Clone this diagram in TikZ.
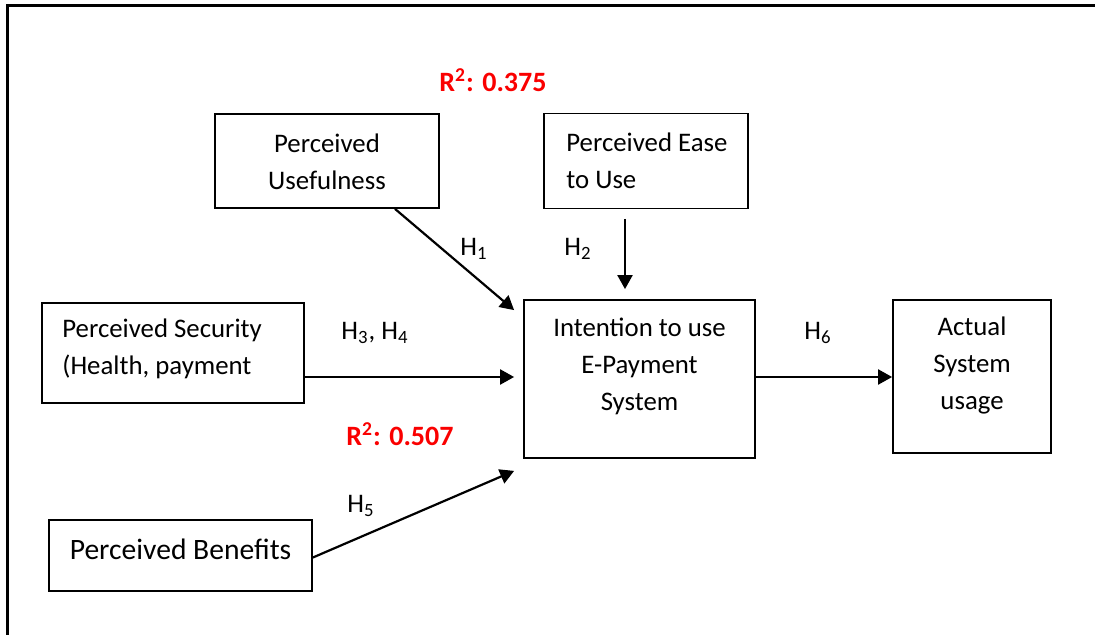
\documentclass[tikz,border=0pt]{standalone}
\usepackage{fontspec}
\setmainfont{Carlito}
\usetikzlibrary{arrows.meta,positioning}
\definecolor{rsqred}{RGB}{250,0,0}

\begin{document}
\begin{tikzpicture}[x=0.5pt,y=-0.5pt,
    box/.style={draw,line width=0.9pt,inner sep=0pt},
    txt/.style={font=\fontsize{13.4}{18.5}\selectfont,inner sep=0pt},
    hyp/.style={font=\fontsize{13.4}{15}\selectfont,inner sep=0pt},
    rsq/.style={font=\fontsize{14}{16}\selectfont\bfseries,text=rsqred,inner sep=0pt},
    arr/.style={-{Triangle[length=7pt,width=7.5pt]},line width=1.1pt}]
  \useasboundingbox (0,0) rectangle (1095,635);
  % page frame (only top and left edges show)
  \draw[line width=1.5pt] (7,635) -- (7,6) -- (1095,6);

  % Top row: usefulness and ease of use
  \node[box,minimum width=112pt,minimum height=47pt] (pu) at (327,161) {};
  \node[txt,align=center] (putxt) at (327,161.5) {Perceived\\Usefulness};
  \node[box,minimum width=102pt,minimum height=47.5pt] (peu) at (646,161) {};
  \node[txt,align=left,anchor=west] (peutxt) at (566,161) {Perceived Ease\\to Use};
  \node[rsq] (rsqtop) at (493,80) {R\textsuperscript{2}: 0.375};

  % Middle row: security, intention, actual usage
  \node[box,minimum width=131pt,minimum height=50pt] (ps) at (173,353) {};
  \node[txt,align=left,anchor=west] (pstxt) at (62,349) {Perceived Security\\(Health, payment};
  \node[box,minimum width=115.5pt,minimum height=79pt] (itu) at (639.5,379) {};
  \node[txt,align=center] (itutxt) at (639.5,366) {Intention to use\\E-Payment\\System};
  \node[box,minimum width=79pt,minimum height=76.5pt] (asu) at (972,376.5) {};
  \node[txt,align=center] (asutxt) at (972,365.5) {Actual\\System\\usage};

  % Bottom row: benefits
  \node[box,minimum width=131.5pt,minimum height=35.5pt] (pb) at (180.5,555.5) {};
  \node[txt,font=\fontsize{14.8}{17}\selectfont] (pbtxt) at (180.5,549) {Perceived Benefits};
  \node[rsq] (rsqmid) at (400,434) {R\textsuperscript{2}: 0.507};

  % Hypothesis labels
  \node[hyp] (h1) at (474,249) {H\textsubscript{1}};
  \node[hyp] (h2) at (578,249) {H\textsubscript{2}};
  \node[hyp] (h34) at (375,333) {H\textsubscript{3}, H\textsubscript{4}};
  \node[hyp] (h5) at (361,506) {H\textsubscript{5}};
  \node[hyp] (h6) at (818,333) {H\textsubscript{6}};

  % Paths
  \draw[arr] ([xshift=34pt]pu.south) -- ([xshift=-4.5pt,yshift=-5.5pt]itu.north west);
  \draw[arr] ([xshift=-10.5pt,yshift=-4.75pt]peu.south) -- ([xshift=-7.25pt,yshift=5pt]itu.north);
  \draw[arr] ([yshift=-12pt]ps.east) -- ([xshift=-4.5pt,yshift=-12pt]ps.east -| itu.west);
  \draw[arr] ([yshift=-1pt]pb.east) -- ([xshift=-4.5pt,yshift=-6pt]itu.south west);
  \draw[arr] ([yshift=1pt]itu.east) -- ([yshift=1pt]itu.east -| asu.west);
\end{tikzpicture}
\end{document}
